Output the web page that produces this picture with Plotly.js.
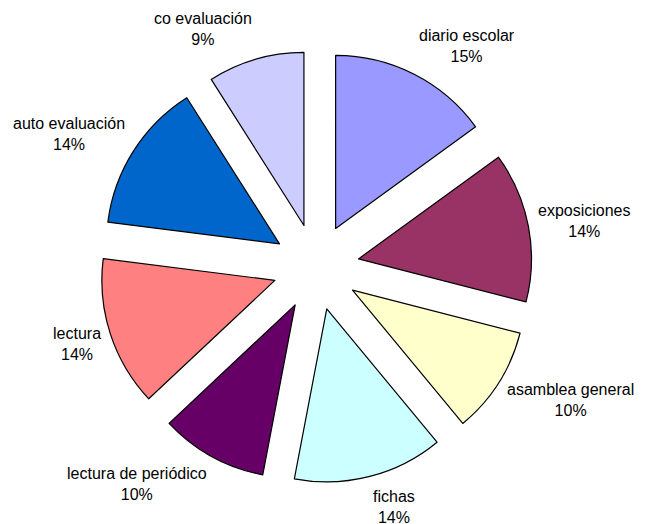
<!DOCTYPE html>
<html>
<head>
<meta charset="utf-8">
<script src="https://cdn.plot.ly/plotly-3.0.1.min.js"></script>
<style>html,body{margin:0;padding:0;background:#fff;}#chart{width:646px;height:524px;}</style>
</head>
<body>
<div id="chart"></div>
<script>
const categories = ["diario escolar", "exposiciones", "asamblea general", "fichas", "lectura de periódico", "lectura", "auto evaluación", "co evaluación"];
const values = [15, 14, 10, 14, 10, 14, 14, 9];
const colors = ["#9999FF", "#993366", "#FFFFCC", "#CCFFFF", "#660066", "#FF8080", "#0066CC", "#CCCCFF"];

const W = 646, H = 524;
const cx = 316, cy = 267, R = 173, pull = 0.25;
const half = R * (1 + pull);
const FONT = "Liberation Sans, Arial, sans-serif";

const trace = {
  type: "pie",
  labels: categories,
  values: values,
  sort: false,
  direction: "clockwise",
  rotation: 0,
  pull: values.map(() => pull),
  marker: { colors: colors, line: { color: "#000000", width: 1.2 } },
  textinfo: "none",
  hoverinfo: "none",
  automargin: false,
  domain: {
    x: [(cx - half) / W, (cx + half) / W],
    y: [(H - cy - half) / H, (H - cy + half) / H]
  }
};

// Label placement derived from each slice's mid-angle (clockwise from 12 o'clock)
const total = values.reduce((a, b) => a + b, 0);
const annotations = [];
let acc = 0;
values.forEach((v, i) => {
  const mid = (acc + v / 2) / total * 2 * Math.PI;
  acc += v;
  const ux = Math.sin(mid), uy = -Math.cos(mid);
  const px = cx + 225 * ux;
  const py = cy + 248 * uy;
  annotations.push({
    xref: "paper", yref: "paper",
    x: px / W, y: (H - py) / H,
    xanchor: ux >= 0 ? "left" : "right",
    yanchor: "middle",
    align: "center",
    showarrow: false,
    borderpad: 0,
    text: categories[i] + "<br>" + Math.round(v / total * 100) + "%",
    font: { family: FONT, size: 16, color: "#000000" }
  });
});

const layout = {
  width: W,
  height: H,
  margin: { l: 0, r: 0, t: 0, b: 0 },
  showlegend: false,
  paper_bgcolor: "#ffffff",
  font: { family: FONT, size: 16, color: "#000000" },
  annotations: annotations
};

Plotly.newPlot("chart", [trace], layout, { displayModeBar: false, staticPlot: true });
</script>
</body>
</html>
